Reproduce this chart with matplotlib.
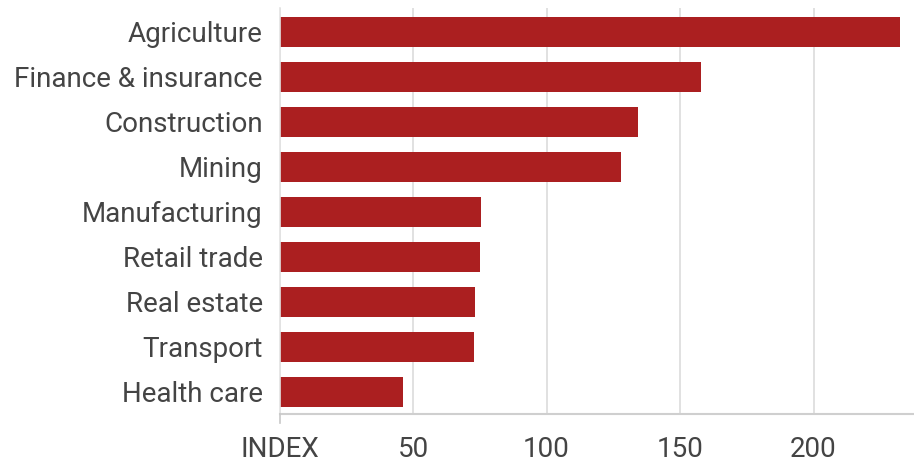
import matplotlib
matplotlib.use("Agg")
import matplotlib.pyplot as plt
import numpy as np

# industry index values, top to bottom
sectors = ["Agriculture", "Finance & insurance", "Construction", "Mining",
           "Manufacturing", "Retail trade", "Real estate", "Transport",
           "Health care"]
index_vals = [232.4, 157.9, 134.3, 127.9, 75.5, 75.1, 73.2, 72.8, 46.3]
tick_vals = [0, 50, 100, 150, 200]
tick_text = ["INDEX", "50", "100", "150", "200"]

bar_col = "#ab1f20"
txt_col = "#444444"

plt.rcParams["font.family"] = ["Roboto", "DejaVu Sans"]

fig = plt.figure(figsize=(9.14, 4.59), dpi=100)
ax = fig.add_axes([0.3058, 0.0991, 0.6942, 0.8835])

ypos = np.arange(len(sectors))
ax.barh(ypos, index_vals, height=0.667, color=bar_col, zorder=2)

ax.set_xlim(0, 237.6)
ax.set_ylim(8.48, -0.53)
ax.set_yticks(ypos)
ax.set_yticklabels(sectors, fontsize=20, color=txt_col)
ax.set_xticks(tick_vals)
ax.set_xticklabels(tick_text, fontsize=20, color=txt_col)

ax.grid(axis="x", color="#dcdcdc", linewidth=1.2, zorder=0)
ax.tick_params(axis="y", length=0, pad=12)
ax.tick_params(axis="x", length=0, pad=16)
# single tick mark under the origin
ax.plot([0, 0], [8.48, 8.48 + 0.22], color="#c8c8c8", lw=1.2,
        clip_on=False, zorder=3)

for s in ["top", "right"]:
    ax.spines[s].set_visible(False)
ax.spines["left"].set_color("#e3e3e3")
ax.spines["left"].set_linewidth(1.2)
ax.spines["bottom"].set_color("#cfcfcf")
ax.spines["bottom"].set_linewidth(1.5)

fig.savefig("out.png", dpi=100, facecolor="white")
